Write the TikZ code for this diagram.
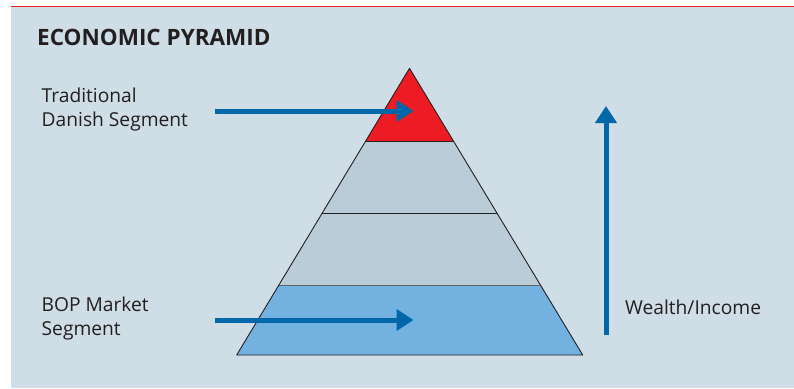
\documentclass[tikz,border=0pt]{standalone}
\usepackage{fontspec}
\setmainfont{Open Sans}
\usetikzlibrary{arrows.meta,calc}
\definecolor{bgblue}{HTML}{CFDDE6}
\definecolor{topred}{HTML}{ED1C24}
\definecolor{tiergray}{HTML}{B9CCD8}
\definecolor{basecol}{HTML}{73B1E0}
\definecolor{arrowblue}{HTML}{0068A8}
\definecolor{txt}{HTML}{231F20}
\tikzset{
  lbl/.style={inner sep=0pt, anchor=base west, text=txt, font=\fontsize{19.2}{24}\selectfont},
  bigarrow/.style={draw=arrowblue, line width=5pt, -{Triangle[length=17pt,width=21pt]}},
  edge/.style={draw=txt, line width=0.9pt, line join=round},
}
\begin{document}
\begin{tikzpicture}[x=1pt,y=-1pt]
\useasboundingbox (0,0) rectangle (794,388);
\fill[white] (0,0) rectangle (794,388);
\fill[bgblue] (11,7.4) rectangle (794,388);
\draw[topred, line width=1.8pt] (11,6.5) -- (794,6.5);

\node[inner sep=0pt, anchor=base west, text=txt, font=\fontsize{22.5}{26}\selectfont\bfseries] (title) at (37,45) {ECONOMIC PYRAMID};

% pyramid
\coordinate (A) at (409.5,68.3);
\coordinate (BL) at (236.7,355);
\coordinate (BR) at (582.7,355);
\coordinate (L1) at ($(A)!0.254!(BL)$);
\coordinate (R1) at ($(A)!0.254!(BR)$);
\coordinate (L2) at ($(A)!0.505!(BL)$);
\coordinate (R2) at ($(A)!0.505!(BR)$);
\coordinate (L3) at ($(A)!0.756!(BL)$);
\coordinate (R3) at ($(A)!0.756!(BR)$);
\fill[topred] (A) -- (L1) -- (R1) -- cycle;
\fill[tiergray] (L1) -- (L3) -- (R3) -- (R1) -- cycle;
\fill[basecol] (L3) -- (BL) -- (BR) -- (R3) -- cycle;
\draw[edge] (L1) -- (R1);
\draw[edge] (L2) -- (R2);
\draw[draw=txt!60!tiergray, line width=0.9pt] (L3) -- (R3);
\draw[edge] (A) -- (BL) -- (BR) -- cycle;

% labels
\node[lbl] (trad) at (41.5,102.7) {Traditional};
\node[lbl] (dan) at (41.5,126.7) {Danish Segment};
\node[lbl] (bop) at (41.5,311.7) {BOP Market};
\node[lbl] (seg) at (41.5,335.7) {Segment};
\node[lbl] (wealth) at (625,314) {Wealth/Income};

% arrows
\coordinate (t0) at (214.5,111);
\coordinate (t1) at (413.5,111);
\coordinate (b0) at (214.5,320);
\coordinate (b1) at (413.5,320);
\coordinate (v0) at (606,335);
\coordinate (v1) at (606,106);
\draw[bigarrow] (t0) -- (t1);
\draw[bigarrow] (b0) -- (b1);
\draw[bigarrow] (v0) -- (v1);
\end{tikzpicture}
\end{document}
